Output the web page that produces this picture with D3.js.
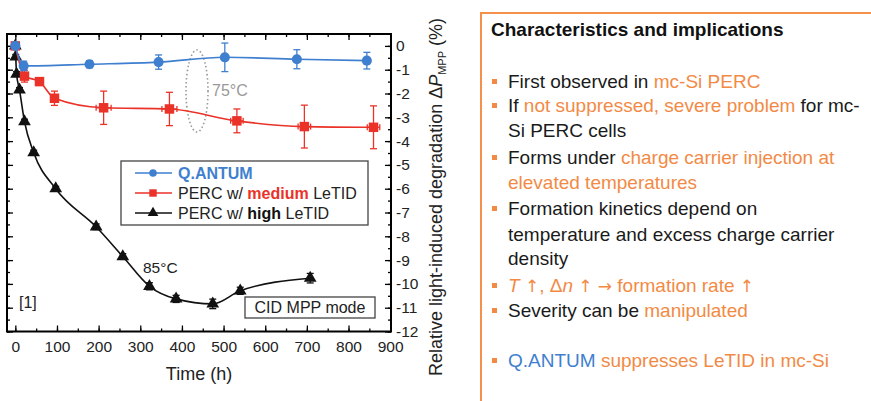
<!DOCTYPE html>
<html>
<head>
<meta charset="utf-8">
<script src="https://cdn.jsdelivr.net/npm/d3@7"></script>
<style>
  body { margin: 0; background: #fff; }
  svg { font-family: "Liberation Sans", Arial, sans-serif; }
</style>
</head>
<body>
<svg width="871" height="401"></svg>
<script>
// time in hours, degradation in %
const qantumTime = [0, 20, 178, 344, 503, 676, 844];
const qantumVal  = [0, -0.84, -0.77, -0.68, -0.48, -0.56, -0.62];
const qantumErr  = [0, 0.2, 0.15, 0.3, 0.6, 0.4, 0.35];

const mediumTime = [0, 22, 58, 94, 212, 370, 532, 694, 860];
const mediumVal  = [0, -1.27, -1.5, -2.2, -2.6, -2.65, -3.15, -3.39, -3.42];
const mediumErr  = [0, 0.25, 0.15, 0.3, 0.7, 0.7, 0.5, 0.9, 0.9];
const mediumXErr = [0, 0, 0, 0, 18, 18, 15, 15, 15];

const highTime = [0, 1, 3, 10, 22, 44, 97, 194, 258, 322, 386, 474, 540, 708];
const highVal  = [0, -0.46, -1.18, -1.85, -3.18, -4.48, -6.0, -7.6, -8.85, -10.1, -10.63, -10.84, -10.29, -9.76];
const highErr  = [0, 0.1, 0.1, 0.1, 0.1, 0.1, 0.1, 0.12, 0.12, 0.15, 0.15, 0.2, 0.15, 0.2];

const xTicks = [0, 100, 200, 300, 400, 500, 600, 700, 800, 900];
const yTicks = [0, -1, -2, -3, -4, -5, -6, -7, -8, -9, -10, -11, -12];

const blue = "#3f7fcf";
const red = "#ea3229";
const orange = "#f28a45";

const svg = d3.select("svg");

const pLeft = 7, pRight = 391, pTop = 34, pBottom = 331.5;

const x = d3.scaleLinear().domain([-20, 902]).range([pLeft, pRight]);
const y = d3.scaleLinear().domain([-12, 0.5]).range([pBottom, pTop]);

const plot = svg.append("g");

// axes: ticks point inward on all four sides
const minorX = d3.range(0, 901, 50);
const minorY = d3.range(0, -12.01, -0.5);

function styleAxis(g) {
  g.select(".domain").remove();
  g.selectAll(".tick line").attr("stroke", "#000").attr("stroke-width", 1.3);
  g.selectAll(".tick text").attr("fill", "#222").style("font-size", "15.5px");
}

plot.append("g")
  .attr("transform", `translate(0,${pBottom})`)
  .call(d3.axisBottom(x).tickValues(xTicks).tickSizeInner(-6).tickSizeOuter(0).tickPadding(9))
  .call(styleAxis);
plot.append("g")
  .attr("transform", `translate(0,${pBottom})`)
  .call(d3.axisBottom(x).tickValues(minorX).tickSize(-3).tickFormat(""))
  .call(styleAxis);
plot.append("g")
  .attr("transform", `translate(0,${pTop})`)
  .call(d3.axisTop(x).tickValues(minorX).tickSize(-3).tickFormat(""))
  .call(styleAxis);
plot.append("g")
  .attr("transform", `translate(0,${pTop})`)
  .call(d3.axisTop(x).tickValues(xTicks).tickSize(-6).tickFormat(""))
  .call(styleAxis);

plot.append("g")
  .attr("transform", `translate(${pRight},0)`)
  .call(d3.axisRight(y).tickValues(yTicks).tickFormat(d => String(d))
    .tickSizeInner(-6).tickSizeOuter(0).tickPadding(5))
  .call(styleAxis)
  .selectAll(".tick text").attr("text-anchor", "start");
plot.append("g")
  .attr("transform", `translate(${pRight},0)`)
  .call(d3.axisRight(y).tickValues(minorY).tickSize(-3).tickFormat(""))
  .call(styleAxis);
plot.append("g")
  .attr("transform", `translate(${pLeft},0)`)
  .call(d3.axisLeft(y).tickValues(yTicks).tickSize(-6).tickFormat(""))
  .call(styleAxis);
plot.append("g")
  .attr("transform", `translate(${pLeft},0)`)
  .call(d3.axisLeft(y).tickValues(minorY).tickSize(-3).tickFormat(""))
  .call(styleAxis);

plot.append("rect")
  .attr("x", pLeft).attr("y", pTop)
  .attr("width", pRight - pLeft).attr("height", pBottom - pTop)
  .attr("fill", "none").attr("stroke", "#000").attr("stroke-width", 2);

// 75°C ellipse and annotations
plot.append("ellipse")
  .attr("cx", 197).attr("cy", 91).attr("rx", 11).attr("ry", 41)
  .attr("fill", "none").attr("stroke", "#999").attr("stroke-width", 1.6)
  .attr("stroke-dasharray", "1.5,2.5");
plot.append("text").attr("x", 212).attr("y", 96)
  .attr("fill", "#999").style("font-size", "16px").text("75°C");
plot.append("text").attr("x", 143).attr("y", 273)
  .attr("fill", "#222").style("font-size", "15.5px").text("85°C");
plot.append("text").attr("x", 19).attr("y", 308)
  .attr("fill", "#222").style("font-size", "16px").text("[1]");

// series
function series(times, vals, errs, xerrs) {
  return times.map((t, i) => ({ t, v: vals[i], e: errs[i], xe: xerrs ? xerrs[i] : 0 }));
}
const qData = series(qantumTime, qantumVal, qantumErr);
const mData = series(mediumTime, mediumVal, mediumErr, mediumXErr);
const hData = series(highTime, highVal, highErr);

const line = d3.line().x(d => x(d.t)).y(d => y(d.v)).curve(d3.curveMonotoneX);

function drawSeries(data, color, shape, size) {
  const g = plot.append("g");
  g.append("path").datum(data).attr("d", line)
    .attr("fill", "none").attr("stroke", color).attr("stroke-width", 1.6);
  const eb = g.selectAll(".eb").data(data.filter(d => d.e > 0)).join("g");
  eb.append("line")
    .attr("x1", d => x(d.t)).attr("x2", d => x(d.t))
    .attr("y1", d => y(d.v - d.e)).attr("y2", d => y(d.v + d.e))
    .attr("stroke", color).attr("stroke-width", 1.3);
  eb.append("line")
    .attr("x1", d => x(d.t) - 3.5).attr("x2", d => x(d.t) + 3.5)
    .attr("y1", d => y(d.v - d.e)).attr("y2", d => y(d.v - d.e))
    .attr("stroke", color).attr("stroke-width", 1.3);
  eb.append("line")
    .attr("x1", d => x(d.t) - 3.5).attr("x2", d => x(d.t) + 3.5)
    .attr("y1", d => y(d.v + d.e)).attr("y2", d => y(d.v + d.e))
    .attr("stroke", color).attr("stroke-width", 1.3);
  const xeb = g.selectAll(".xeb").data(data.filter(d => d.xe > 0)).join("g");
  xeb.append("line")
    .attr("x1", d => x(d.t - d.xe)).attr("x2", d => x(d.t + d.xe))
    .attr("y1", d => y(d.v)).attr("y2", d => y(d.v))
    .attr("stroke", color).attr("stroke-width", 1.3);
  xeb.selectAll(".cap").data(d => [d.t - d.xe, d.t + d.xe].map(t => ({ t, v: d.v })))
    .join("line")
    .attr("x1", d => x(d.t)).attr("x2", d => x(d.t))
    .attr("y1", d => y(d.v) - 3).attr("y2", d => y(d.v) + 3)
    .attr("stroke", color).attr("stroke-width", 1.3);
  g.selectAll(".pt").data(data).join("path")
    .attr("transform", d => `translate(${x(d.t)},${y(d.v)})`)
    .attr("d", d3.symbol(shape, size))
    .attr("fill", color);
}

drawSeries(hData, "#111", d3.symbolTriangle, 70);
drawSeries(mData, red, d3.symbolSquare, 90);
drawSeries(qData, blue, d3.symbolCircle, 80);

// legend
const legend = plot.append("g");
legend.append("rect").attr("x", 121).attr("y", 161).attr("width", 247).attr("height", 64)
  .attr("fill", "#fff").attr("stroke", "#444").attr("stroke-width", 1.3);
const legendItems = [
  { color: blue, shape: d3.symbolCircle, size: 45, parts: [["Q.ANTUM", blue, "bold"]] },
  { color: red, shape: d3.symbolSquare, size: 55, parts: [["PERC w/ ", "#222", "normal"], ["medium", red, "bold"], [" LeTID", "#222", "normal"]] },
  { color: "#111", shape: d3.symbolTriangle, size: 50, parts: [["PERC w/ ", "#222", "normal"], ["high", "#111", "bold"], [" LeTID", "#222", "normal"]] }
];
legendItems.forEach((it, i) => {
  const ly = 173 + i * 20;
  legend.append("line").attr("x1", 135).attr("x2", 172).attr("y1", ly).attr("y2", ly)
    .attr("stroke", it.color).attr("stroke-width", 1.6);
  legend.append("path").attr("transform", `translate(153,${ly})`)
    .attr("d", d3.symbol(it.shape, it.size)).attr("fill", it.color);
  const t = legend.append("text").attr("x", 178).attr("y", ly + 5.5).style("font-size", "16px");
  it.parts.forEach(p => t.append("tspan").attr("fill", p[1]).attr("font-weight", p[2]).text(p[0]));
});

// CID MPP mode box
plot.append("rect").attr("x", 245).attr("y", 297).attr("width", 130).attr("height", 21)
  .attr("fill", "#fff").attr("stroke", "#444").attr("stroke-width", 1.3);
plot.append("text").attr("x", 310).attr("y", 313).attr("text-anchor", "middle")
  .attr("fill", "#222").style("font-size", "16px").text("CID MPP mode");

// axis titles
svg.append("text").attr("x", 199).attr("y", 380).attr("text-anchor", "middle")
  .attr("fill", "#222").style("font-size", "18px").text("Time (h)");
const yt = svg.append("text")
  .attr("transform", "translate(442,197) rotate(-90)")
  .attr("text-anchor", "middle").attr("fill", "#222").style("font-size", "18px");
yt.append("tspan").text("Relative light-induced degradation Δ");
yt.append("tspan").attr("font-style", "italic").text("P");
yt.append("tspan").attr("dy", 4).style("font-size", "11px").text("MPP");
yt.append("tspan").attr("dy", -4).text(" (%)");

// right text panel
const panel = svg.append("g");
panel.append("rect").attr("x", 481).attr("y", 13).attr("width", 420).attr("height", 420)
  .attr("fill", "#fff").attr("stroke", "#f5904c").attr("stroke-width", 2);
panel.append("text").attr("x", 491).attr("y", 36).attr("font-weight", "bold")
  .attr("fill", "#111").style("font-size", "19px").text("Characteristics and implications");

const K = "#1a1a1a";
const AR = "arrow";
const panelLines = [
  { y: 88, bullet: true, parts: [["First observed in ", K], ["mc-Si PERC", orange]] },
  { y: 112, bullet: true, parts: [["If ", K], ["not suppressed, severe problem", orange], [" for mc-", K]] },
  { y: 137, parts: [["Si PERC cells", K]] },
  { y: 164, bullet: true, parts: [["Forms under ", K], ["charge carrier injection at", orange]] },
  { y: 189, parts: [["elevated temperatures", orange]] },
  { y: 215, bullet: true, parts: [["Formation kinetics depend on", K]] },
  { y: 241, parts: [["temperature and excess charge carrier", K]] },
  { y: 265, parts: [["density", K]] },
  { y: 292, bullet: true, parts: [["T", orange, "italic"], [" ", orange], ["↑", orange, AR], [", Δ", orange],
      ["n", orange, "italic"], [" ", orange], ["↑", orange, AR], [" ", orange], ["→", orange, AR],
      [" formation rate ", orange], ["↑", orange, AR]] },
  { y: 317, bullet: true, parts: [["Severity can be ", K], ["manipulated", orange]] },
  { y: 367, bullet: true, parts: [["Q.ANTUM", blue], [" suppresses LeTID in mc-Si", orange]] }
];
panelLines.forEach(l => {
  if (l.bullet) {
    panel.append("rect").attr("x", 492).attr("y", l.y - 9).attr("width", 5).attr("height", 5)
      .attr("fill", orange);
  }
  const t = panel.append("text").attr("x", 508).attr("y", l.y).style("font-size", "19px");
  l.parts.forEach(p => {
    const ts = t.append("tspan").attr("fill", p[1]).text(p[0]);
    if (p[2] === AR) ts.style("font-family", "'DejaVu Sans', sans-serif").style("font-size", "17px");
    else ts.attr("font-style", p[2] || "normal");
  });
});
</script>
</body>
</html>
